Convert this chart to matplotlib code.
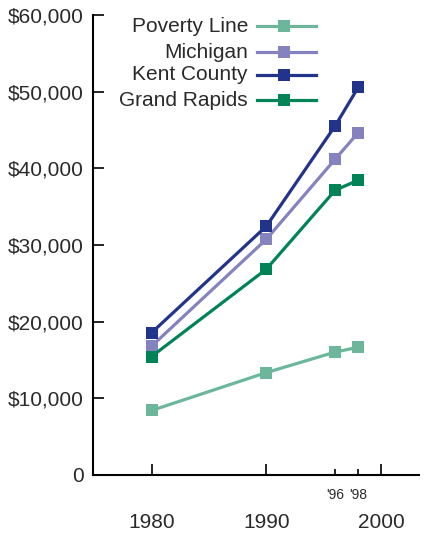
import matplotlib
matplotlib.use("Agg")
import matplotlib.pyplot as plt
from matplotlib.lines import Line2D
from matplotlib.ticker import FixedLocator, FixedFormatter

plt.rcParams['font.family'] = ['Liberation Sans', 'DejaVu Sans']

years = [1980, 1990, 1996, 1998]
poverty = [8414, 13359, 16036, 16660]
michigan = [16800, 30750, 41200, 44650]
kent = [18550, 32450, 45550, 50550]
grand_rapids = [15450, 26850, 37150, 38450]

series_names = ["Poverty Line", "Michigan", "Kent County", "Grand Rapids"]
series_values = [poverty, michigan, kent, grand_rapids]
colors = ["#6cb79c", "#8482bf", "#22338c", "#008457"]

major_years = [1980, 1990, 2000]
major_labels = ["1980", "1990", "2000"]
minor_years = [1996, 1998]
minor_labels = ["'96", "'98"]
y_ticks = [0, 10000, 20000, 30000, 40000, 50000, 60000]
y_labels = ["0", "$10,000", "$20,000", "$30,000", "$40,000", "$50,000", "$60,000"]

W, H = 425, 536
fig = plt.figure(figsize=(W / 100, H / 100), dpi=100)
ax = fig.add_axes([93 / W, (H - 475) / H, (419 - 93) / W, (475 - 15) / H])

for vals, c in zip(series_values, colors):
    ax.plot(years, vals, color=c, lw=2.3, marker='s', markersize=8,
            markeredgewidth=0, solid_capstyle='butt')

ax.set_xlim(1974.9, 2003.3)
ax.set_ylim(0, 60000)

ax.set_yticks(y_ticks)
ax.set_yticklabels(y_labels)
ax.xaxis.set_major_locator(FixedLocator(major_years))
ax.xaxis.set_major_formatter(FixedFormatter(major_labels))
ax.xaxis.set_minor_locator(FixedLocator(minor_years))
ax.xaxis.set_minor_formatter(FixedFormatter(minor_labels))

ax.tick_params(axis='y', direction='in', length=8, width=1.2, pad=6.5,
               labelsize=15, colors='black')
ax.tick_params(axis='x', which='major', direction='in', length=8, width=1.2,
               pad=27, labelsize=15)
ax.tick_params(axis='x', which='minor', direction='in', length=4.5, width=1.2,
               pad=9.5, labelsize=10)
for lab in ax.get_yticklabels() + ax.get_xticklabels() + ax.get_xticklabels(minor=True):
    lab.set_color('#2a2a2a')

for s in ['top', 'right']:
    ax.spines[s].set_visible(False)
for s in ['left', 'bottom']:
    ax.spines[s].set_linewidth(1.5)

# legend (manual)
rows_y = [26, 52, 75, 100]
for name, c, yy in zip(series_names, colors, rows_y):
    fy = (H - yy) / H
    fig.text(248 / W, fy, name, ha='right', va='center', fontsize=15, color='#2a2a2a')
    fig.add_artist(Line2D([257 / W, 316 / W], [fy, fy], color=c, lw=2.3,
                          transform=fig.transFigure))
    fig.add_artist(Line2D([284 / W], [fy], color=c, marker='s', markersize=8,
                          markeredgewidth=0, transform=fig.transFigure))

fig.savefig("out.png", dpi=100)
